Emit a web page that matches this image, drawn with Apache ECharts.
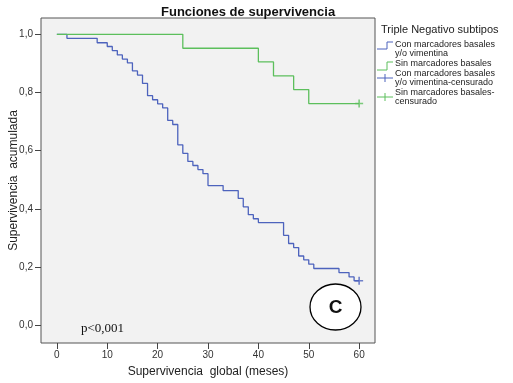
<!DOCTYPE html>
<html>
<head>
<meta charset="utf-8">
<script src="https://cdn.jsdelivr.net/npm/echarts@6/dist/echarts.min.js"></script>
<style>
  html, body { margin: 0; padding: 0; background: #fff; }
  #chart { width: 513px; height: 383px; }
</style>
</head>
<body>
<div id="chart"></div>
<script>
// Kaplan-Meier, Triple Negativo subtipos
var blueTimes = [0, 2, 8, 10, 11, 12, 13, 14, 15, 16, 17, 18, 19, 20, 21, 22, 23, 24, 25, 26, 27, 28, 29, 30, 33, 36, 37, 38, 39, 40, 45, 46, 47, 48, 49, 50, 51, 56, 58, 59, 60]
var blueSurv = [1.0, 0.986, 0.971, 0.958, 0.944, 0.929, 0.915, 0.902, 0.874, 0.860, 0.831, 0.789, 0.775, 0.761, 0.747, 0.704, 0.690, 0.620, 0.591, 0.563, 0.549, 0.535, 0.521, 0.480, 0.463, 0.436, 0.407, 0.380, 0.366, 0.353, 0.309, 0.281, 0.267, 0.238, 0.225, 0.210, 0.195, 0.181, 0.166, 0.153, 0.153]
var greenTimes = [0, 25, 40, 43, 47, 50, 60]
var greenSurv = [1.0, 0.952, 0.905, 0.857, 0.810, 0.762, 0.762]
var blueCensor = [[60, 0.153]]
var greenCensor = [[60, 0.762]]
var xTicks = [0, 10, 20, 30, 40, 50, 60]
var yTicks = [0, 0.2, 0.4, 0.6, 0.8, 1.0]
var legendNames = ['Con marcadores basales\ny/o vimentina', 'Sin marcadores basales', 'Con marcadores basales\ny/o vimentina-censurado', 'Sin marcadores basales-\ncensurado']

var BLUE = '#4d63bd'
var GREEN = '#5cbf5c'
var PLUS = 'path://M4,0H6V4H10V6H6V10H4V6H0V4H4Z'

function pairs(t, s) {
  return t.map(function (v, i) { return [v, s[i]] })
}

var myChart = echarts.init(document.getElementById('chart'))
var option = {
  backgroundColor: '#fff',
  animation: false,
  title: {
    text: 'Funciones de supervivencia',
    left: 156,
    top: 1,
    textStyle: { fontFamily: 'Liberation Sans', fontSize: 13, fontWeight: 'bold', color: '#111' }
  },
  grid: {
    left: 41, right: 138, top: 18, bottom: 40,
    outerBoundsMode: 'none',
    show: true,
    backgroundColor: '#f2f2f2',
    borderColor: '#555',
    borderWidth: 1
  },
  xAxis: {
    type: 'value',
    min: -3.15,
    max: 63.15,
    name: 'Supervivencia  global (meses)',
    nameLocation: 'middle',
    nameGap: 23,
    nameTextStyle: { fontFamily: 'Liberation Sans', fontSize: 12, color: '#222' },
    axisLine: { show: false, onZero: false },
    splitLine: { show: false },
    axisTick: { show: true, length: 6, customValues: xTicks, lineStyle: { color: '#444' } },
    axisLabel: {
      customValues: xTicks, margin: 7,
      fontFamily: 'Liberation Sans', fontSize: 10, color: '#333'
    }
  },
  yAxis: {
    type: 'value',
    min: -0.061,
    max: 1.056,
    name: 'Supervivencia  acumulada',
    nameLocation: 'middle',
    nameRotate: 90,
    nameGap: 21,
    nameMoveOverlap: false,
    nameTextStyle: { fontFamily: 'Liberation Sans', fontSize: 12, color: '#222' },
    axisLine: { show: false, onZero: false },
    splitLine: { show: false },
    axisTick: { show: true, length: 6, customValues: yTicks, lineStyle: { color: '#444' } },
    axisLabel: {
      customValues: yTicks, margin: 8,
      fontFamily: 'Liberation Sans', fontSize: 10, color: '#333',
      formatter: function (v) { return v.toFixed(1).replace('.', ',') }
    }
  },
  series: [
    {
      name: legendNames[0], type: 'line', step: 'end', showSymbol: false,
      data: pairs(blueTimes, blueSurv),
      lineStyle: { color: BLUE, width: 1.3 }
    },
    {
      name: legendNames[1], type: 'line', step: 'end', showSymbol: false,
      data: pairs(greenTimes, greenSurv),
      lineStyle: { color: GREEN, width: 1.3 }
    },
    {
      name: legendNames[2], type: 'scatter', symbol: PLUS, symbolSize: 8,
      data: blueCensor, itemStyle: { color: BLUE }
    },
    {
      name: legendNames[3], type: 'scatter', symbol: PLUS, symbolSize: 8,
      data: greenCensor, itemStyle: { color: GREEN }
    }
  ],
  graphic: [
    // legend
    { type: 'text', x: 381, y: 30, style: { text: 'Triple Negativo subtipos', font: '11px "Liberation Sans"', fill: '#222', verticalAlign: 'middle' } },
    { type: 'polyline', shape: { points: [[377, 49], [387, 49], [387, 42], [393, 42]] }, style: { stroke: BLUE, lineWidth: 1, fill: null } },
    { type: 'text', x: 395, y: 49.5, style: { text: legendNames[0], font: '9px "Liberation Sans"', lineHeight: 9, fill: '#222', verticalAlign: 'middle' } },
    { type: 'polyline', shape: { points: [[377, 70], [387, 70], [387, 62], [393, 62]] }, style: { stroke: GREEN, lineWidth: 1, fill: null } },
    { type: 'text', x: 395, y: 64, style: { text: legendNames[1], font: '9px "Liberation Sans"', lineHeight: 9, fill: '#222', verticalAlign: 'middle' } },
    { type: 'line', shape: { x1: 377, y1: 78, x2: 393, y2: 78 }, style: { stroke: BLUE, lineWidth: 1 } },
    { type: 'line', shape: { x1: 385, y1: 74, x2: 385, y2: 82 }, style: { stroke: BLUE, lineWidth: 1 } },
    { type: 'text', x: 395, y: 78.5, style: { text: legendNames[2], font: '9px "Liberation Sans"', lineHeight: 9, fill: '#222', verticalAlign: 'middle' } },
    { type: 'line', shape: { x1: 377, y1: 97, x2: 393, y2: 97 }, style: { stroke: GREEN, lineWidth: 1 } },
    { type: 'line', shape: { x1: 385, y1: 93, x2: 385, y2: 101 }, style: { stroke: GREEN, lineWidth: 1 } },
    { type: 'text', x: 395, y: 97.5, style: { text: legendNames[3], font: '9px "Liberation Sans"', lineHeight: 9, fill: '#222', verticalAlign: 'middle' } },
    // annotations
    { type: 'text', x: 81, y: 329, style: { text: 'p<0,001', font: '13px "Liberation Serif"', fill: '#111', verticalAlign: 'middle' } },
    { type: 'ellipse', shape: { cx: 335.5, cy: 307, rx: 25.5, ry: 23 }, style: { fill: '#fff', stroke: '#000', lineWidth: 1.3 } },
    { type: 'text', x: 335.5, y: 308, style: { text: 'C', font: 'bold 19px "Liberation Sans"', fill: '#111', align: 'center', verticalAlign: 'middle' } }
  ]
}
myChart.setOption(option)
</script>
</body>
</html>
